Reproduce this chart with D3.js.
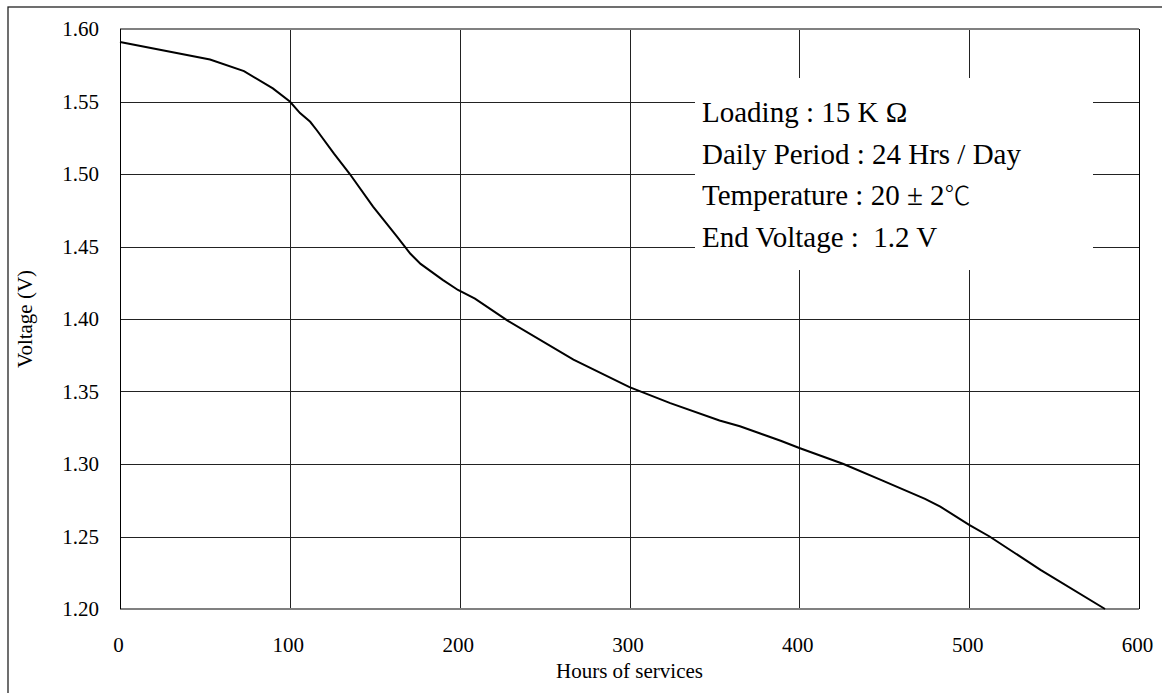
<!DOCTYPE html>
<html lang="en">
<head>
<meta charset="UTF-8">
<title>Voltage vs Hours of services</title>
<script src="https://cdn.jsdelivr.net/npm/d3@7"></script>
<style>
  body { margin: 0; background: #fff; }
  text { font-family: "Liberation Serif", "Times New Roman", serif; fill: #000; }
</style>
</head>
<body>
<svg id="chart" width="1162" height="693"></svg>
<script>
// discharge curve
const hours = [0, 53, 73, 90, 100, 106, 112, 116, 126, 135, 149, 163, 171, 177, 190, 199, 209,
               228, 267, 300, 324, 353, 365, 377, 389, 400, 426, 448, 474, 483, 500, 512, 542, 580];
const volts = [1.591, 1.579, 1.571, 1.559, 1.550, 1.542, 1.536, 1.530, 1.514, 1.5005, 1.4775, 1.457,
               1.445, 1.438, 1.427, 1.420, 1.414, 1.399, 1.372, 1.353, 1.342, 1.330, 1.326, 1.321,
               1.316, 1.311, 1.300, 1.289, 1.276, 1.2706, 1.258, 1.250, 1.227, 1.200];

const xTicks = [0, 100, 200, 300, 400, 500, 600];
const yTicks = [1.20, 1.25, 1.30, 1.35, 1.40, 1.45, 1.50, 1.55, 1.60];

const notes = ["Loading : 15 K \u03A9", "Daily Period : 24 Hrs / Day", "Temperature : 20 \u00B1 2", "End Voltage :\u00A0 1.2 V"];

const svg = d3.select("#chart");
const plotL = 120, plotR = 1139, plotT = 29, plotB = 609;

const x = d3.scaleLinear().domain([0, 600]).range([plotL, plotR]);
const y = d3.scaleLinear().domain([1.2, 1.6]).range([plotB, plotT]);

// outer frame (runs off the right / bottom of the picture)
svg.append("rect")
    .attr("x", 8).attr("y", 7).attr("width", 1170).attr("height", 700)
    .attr("fill", "none").attr("stroke", "#222").attr("stroke-width", 1.3);

// grid
svg.append("g").selectAll("line")
    .data(xTicks.slice(1, -1))
    .join("line")
    .attr("x1", d => Math.round(x(d)) + 0.5).attr("x2", d => Math.round(x(d)) + 0.5)
    .attr("y1", plotT).attr("y2", plotB)
    .attr("stroke", "#222").attr("stroke-width", 1);

svg.append("g").selectAll("line")
    .data(yTicks.slice(1, -1))
    .join("line")
    .attr("x1", plotL).attr("x2", plotR)
    .attr("y1", d => Math.round(y(d)) + 0.5).attr("y2", d => Math.round(y(d)) + 0.5)
    .attr("stroke", "#222").attr("stroke-width", 1);

// plot frame: top/bottom grey, sides black
svg.append("line").attr("x1", plotL).attr("x2", plotR).attr("y1", plotT).attr("y2", plotT)
    .attr("stroke", "#808080").attr("stroke-width", 2);
svg.append("line").attr("x1", plotL).attr("x2", plotR).attr("y1", plotB).attr("y2", plotB)
    .attr("stroke", "#808080").attr("stroke-width", 2);
svg.append("line").attr("x1", plotL + 0.5).attr("x2", plotL + 0.5).attr("y1", plotT).attr("y2", plotB)
    .attr("stroke", "#000").attr("stroke-width", 1);
svg.append("line").attr("x1", plotR + 0.5).attr("x2", plotR + 0.5).attr("y1", plotT).attr("y2", plotB)
    .attr("stroke", "#000").attr("stroke-width", 1);

// white note box over the grid
svg.append("rect")
    .attr("x", 695).attr("y", 78).attr("width", 398).attr("height", 192)
    .attr("fill", "#fff");

const noteText = svg.append("g").selectAll("text")
    .data(notes)
    .join("text")
    .attr("x", 702)
    .attr("y", (d, i) => 122 + i * 41.7)
    .attr("font-size", "29px")
    .text(d => d);
noteText.filter((d, i) => i === 2)
    .append("tspan")
    .attr("font-family", "'Noto Sans CJK TC', 'DejaVu Sans', sans-serif")
    .attr("font-weight", 300)
    .attr("font-size", "26px")
    .text("\u2103");

// curve
const line = d3.line()
    .x(d => x(d[0]))
    .y(d => y(d[1]));
svg.append("path")
    .datum(hours.map((h, i) => [h, volts[i]]))
    .attr("d", line)
    .attr("fill", "none")
    .attr("stroke", "#000")
    .attr("stroke-width", 2);

// axes (labels only)
const yAxis = svg.append("g")
    .attr("transform", `translate(${plotL},0)`)
    .call(d3.axisLeft(y).tickValues(yTicks).tickSize(0).tickPadding(21).tickFormat(d3.format(".2f")));
const xAxis = svg.append("g")
    .attr("transform", `translate(-2,${plotB})`)
    .call(d3.axisBottom(x).tickValues(xTicks).tickSize(0).tickPadding(28).tickFormat(d3.format("d")));
[yAxis, xAxis].forEach(g => {
    g.select(".domain").remove();
    g.selectAll("text")
        .attr("font-family", "'Liberation Serif', 'Times New Roman', serif")
        .attr("font-size", "21px")
        .attr("fill", "#000");
});

// axis titles
svg.append("text")
    .attr("x", (plotL + plotR) / 2).attr("y", 678)
    .attr("text-anchor", "middle")
    .attr("font-size", "21px")
    .text("Hours of services");

svg.append("text")
    .attr("transform", `translate(32,${(plotT + plotB) / 2}) rotate(-90)`)
    .attr("text-anchor", "middle")
    .attr("font-size", "21px")
    .text("Voltage (V)");
</script>
</body>
</html>
